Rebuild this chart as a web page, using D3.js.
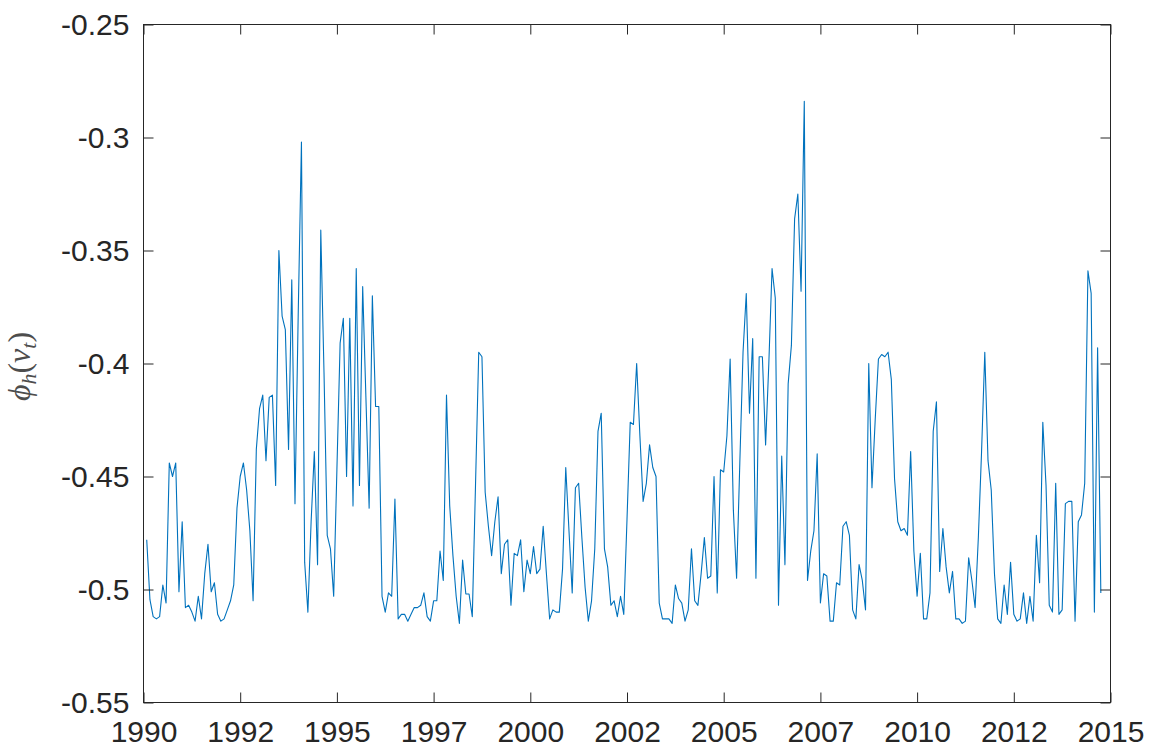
<!DOCTYPE html>
<html>
<head>
<meta charset="utf-8">
<script src="https://cdn.jsdelivr.net/npm/d3@7"></script>
<style>
  html, body { margin: 0; padding: 0; background: #ffffff; }
  svg { display: block; }
</style>
</head>
<body>
<script>
// ---- data (monthly series, first observation Feb 1990) ----
const startYear = 1990;
const startMonth = 1; // 0 = January, 1 = February
const phiValues = [
  -0.478, -0.5045, -0.512, -0.513, -0.512, -0.498, -0.506, -0.444, -0.450, -0.444,
  -0.501, -0.470, -0.508, -0.507, -0.510, -0.514, -0.503, -0.513, -0.493, -0.480,
  -0.501, -0.497, -0.511, -0.514, -0.513, -0.509, -0.505, -0.498, -0.464, -0.450,
  -0.444, -0.456, -0.474, -0.505, -0.438, -0.420, -0.414, -0.443,
  -0.415, -0.414, -0.454, -0.350, -0.379, -0.385, -0.438, -0.363, -0.462, -0.378,
  -0.302, -0.488, -0.510, -0.470, -0.439, -0.489, -0.341, -0.404, -0.476, -0.482,
  -0.503, -0.447, -0.391, -0.380, -0.450, -0.380, -0.463, -0.358, -0.454, -0.366,
  -0.415, -0.464, -0.370, -0.419, -0.419, -0.503, -0.510,
  -0.5015, -0.503, -0.460, -0.513, -0.511, -0.511, -0.514, -0.511, -0.508, -0.508,
  -0.507, -0.5015, -0.512, -0.514, -0.505, -0.505, -0.483, -0.496, -0.414, -0.463,
  -0.485, -0.503, -0.515, -0.487, -0.502, -0.502, -0.512, -0.454, -0.395, -0.397,
  -0.457, -0.472, -0.485, -0.470, -0.459, -0.493, -0.480,
  -0.478, -0.507, -0.484, -0.485, -0.478, -0.501, -0.487, -0.493, -0.481, -0.493,
  -0.491, -0.472, -0.493, -0.513, -0.509, -0.510, -0.510, -0.491, -0.446, -0.474,
  -0.5015, -0.455, -0.453, -0.477, -0.499, -0.514, -0.505, -0.482, -0.430, -0.422,
  -0.482, -0.490, -0.507, -0.505, -0.512, -0.503, -0.511,
  -0.469, -0.426, -0.427, -0.400, -0.432, -0.461, -0.453, -0.436, -0.446, -0.450,
  -0.506, -0.513, -0.513, -0.513, -0.515, -0.498, -0.504, -0.506, -0.514, -0.509,
  -0.482, -0.505, -0.507, -0.493, -0.477, -0.495, -0.494, -0.450, -0.5015, -0.447,
  -0.448, -0.432, -0.398, -0.465, -0.495, -0.444, -0.395, -0.369,
  -0.422, -0.389, -0.495, -0.397, -0.397, -0.436, -0.400, -0.358, -0.371, -0.507,
  -0.441, -0.489, -0.409, -0.392, -0.336, -0.325, -0.368, -0.284, -0.496, -0.483,
  -0.474, -0.440, -0.506, -0.493, -0.494, -0.514, -0.514, -0.497, -0.498, -0.472,
  -0.470, -0.476, -0.509, -0.513, -0.489, -0.496, -0.509,
  -0.400, -0.455, -0.425, -0.398, -0.396, -0.397, -0.395, -0.407, -0.451, -0.470,
  -0.474, -0.473, -0.476, -0.439, -0.483, -0.503, -0.484, -0.513, -0.513, -0.5015,
  -0.430, -0.417, -0.492, -0.473, -0.490, -0.5015, -0.492, -0.513, -0.513, -0.515,
  -0.514, -0.486, -0.496, -0.508, -0.477, -0.439, -0.395,
  -0.443, -0.456, -0.493, -0.513, -0.515, -0.498, -0.511, -0.488, -0.511, -0.514,
  -0.513, -0.5015, -0.515, -0.503, -0.514, -0.476, -0.497, -0.426, -0.454, -0.507,
  -0.510, -0.453, -0.511, -0.509, -0.462, -0.461, -0.461, -0.514, -0.470, -0.467,
  -0.453, -0.359, -0.369, -0.510, -0.393, -0.5015
];
const xDomain = [1990, 2015];
const xTickValues = [1990, 1992.5, 1995, 1997.5, 2000, 2002.5, 2005, 2007.5, 2010, 2012.5, 2015];
const xTickLabels = ["1990", "1992", "1995", "1997", "2000", "2002", "2005", "2007", "2010", "2012", "2015"];
const yDomain = [-0.55, -0.25];
const yTickValues = [-0.55, -0.5, -0.45, -0.4, -0.35, -0.3, -0.25];
const yTickLabels = ["-0.55", "-0.5", "-0.45", "-0.4", "-0.35", "-0.3", "-0.25"];

// ---- layout ----
const W = 1149, H = 748;
const L = 143.5, R = 1110.5, T = 24.5, B = 702.5;
const axisColor = "#262626";
const tickFont = "'Liberation Sans', Arial, Helvetica, sans-serif";

const svg = d3.select("body").append("svg").attr("width", W).attr("height", H);

const x = d3.scaleLinear().domain(xDomain).range([L, R]);
const y = d3.scaleLinear().domain(yDomain).range([B, T]);

const series = phiValues.map((v, i) => ({ t: startYear + (startMonth + i) / 12, v }));

// line
svg.append("path")
  .datum(series)
  .attr("fill", "none")
  .attr("stroke", "#0072BD")
  .attr("stroke-width", 1.1)
  .attr("stroke-linejoin", "round")
  .attr("d", d3.line().x(d => x(d.t)).y(d => y(d.v)));

// axes
function styleAxis(g) {
  g.selectAll("path.domain").remove();
  g.selectAll(".tick line").attr("stroke", axisColor).attr("stroke-width", 1);
  g.selectAll(".tick text").attr("fill", axisColor).style("font-family", tickFont).style("font-size", "30px");
}

svg.append("g").attr("transform", `translate(${L},0)`)
  .call(d3.axisLeft(y).tickValues(yTickValues).tickSize(-10).tickPadding(14)
    .tickFormat((d, i) => yTickLabels[i]))
  .call(styleAxis);

svg.append("g").attr("transform", `translate(${R},0)`)
  .call(d3.axisRight(y).tickValues(yTickValues).tickSize(-10).tickFormat(""))
  .call(styleAxis);

svg.append("g").attr("transform", `translate(0,${B})`)
  .call(d3.axisBottom(x).tickValues(xTickValues).tickSize(-10).tickPadding(18)
    .tickFormat((d, i) => xTickLabels[i]))
  .call(styleAxis);

svg.append("g").attr("transform", `translate(0,${T})`)
  .call(d3.axisTop(x).tickValues(xTickValues).tickSize(-10).tickFormat(""))
  .call(styleAxis);

// box
svg.append("rect")
  .attr("x", L).attr("y", T).attr("width", R - L).attr("height", B - T)
  .attr("fill", "none").attr("stroke", axisColor).attr("stroke-width", 1);

// y label  phi_h(v_t)
const yl = svg.append("text")
  .attr("transform", `translate(30,${(T + B) / 2 + 3}) rotate(-90)`)
  .attr("text-anchor", "middle")
  .attr("fill", "#4d4d4d")
  .style("font-family", "'Liberation Serif', 'DejaVu Serif', serif")
  .style("font-size", "32px");
yl.append("tspan").style("font-style", "italic").text("ϕ");
yl.append("tspan").style("font-style", "italic").style("font-size", "22px").attr("dy", 6).text("h");
yl.append("tspan").attr("dy", -6).text("(");
yl.append("tspan").style("font-style", "italic").text("v");
yl.append("tspan").style("font-style", "italic").style("font-size", "22px").attr("dy", 6).text("t");
yl.append("tspan").attr("dy", -6).text(")");
</script>
</body>
</html>
